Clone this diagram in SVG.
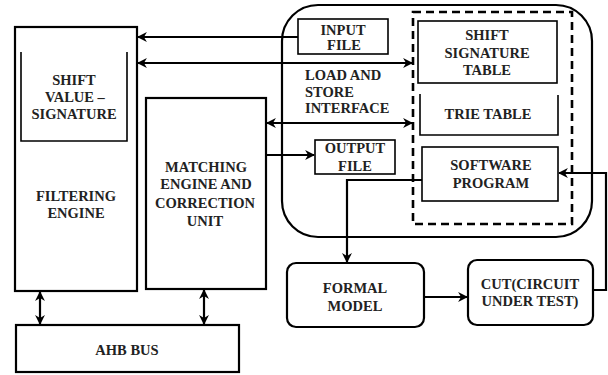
<svg xmlns="http://www.w3.org/2000/svg" width="608" height="375" viewBox="0 0 608 375">
<defs>
<style>
.box{fill:none;stroke:#000;stroke-width:2.2}
.thin{fill:none;stroke:#000;stroke-width:1.6}
.ln{fill:none;stroke:#000;stroke-width:2.2}
.dash{fill:none;stroke:#000;stroke-width:2.6;stroke-dasharray:8,5}
text{font-family:"Liberation Serif","Times New Roman",serif;font-weight:bold;font-size:14.5px;fill:#222;text-anchor:middle}
.l{text-anchor:start}
</style>
<marker id="ah" viewBox="0 0 10 10" refX="9" refY="5" markerWidth="4.5" markerHeight="4.5" orient="auto-start-reverse" markerUnits="strokeWidth">
<path d="M0,0 L10,5 L0,10 L3,5 z" fill="#000"/>
</marker>
</defs>
<rect width="608" height="375" fill="#fff"/>

<g id="filtering-engine">
<rect class="box" x="15" y="27" width="122" height="264"/>
<path class="thin" d="M21,52 V141 H127 V52"/>
<text x="74" y="85">SHIFT</text>
<text x="75" y="102">VALUE  –</text>
<text x="74" y="119">SIGNATURE</text>
<text x="76" y="201">FILTERING</text>
<text x="76" y="218">ENGINE</text>
</g>

<g id="matching-engine">
<rect class="box" x="146" y="98" width="120" height="191"/>
<text x="206" y="172">MATCHING</text>
<text x="206" y="189">ENGINE AND</text>
<text x="205" y="208">CORRECTION</text>
<text x="205" y="226">UNIT</text>
</g>

<g id="ahb-bus">
<rect class="box" x="16" y="325" width="223" height="47"/>
<text x="127" y="355">AHB BUS</text>
</g>

<g id="memory-block">
<rect class="box" x="282" y="5" width="310" height="232" rx="36" ry="36"/>
<rect class="dash" x="413" y="12" width="159" height="212"/>
</g>

<g id="input-file">
<rect class="thin" x="298" y="19" width="90" height="35"/>
<text x="343" y="35">INPUT</text>
<text x="344" y="50">FILE</text>
</g>

<g id="load-store">
<text class="l" x="305" y="80">LOAD AND</text>
<text class="l" x="305" y="97">STORE</text>
<text class="l" x="305" y="113">INTERFACE</text>
</g>

<g id="shift-signature-table">
<rect class="thin" x="418" y="21" width="139" height="62"/>
<text x="487" y="40">SHIFT</text>
<text x="487" y="58">SIGNATURE</text>
<text x="487" y="75">TABLE</text>
</g>

<g id="trie-table">
<path class="thin" d="M420,94 V135 H558 V95"/>
<text x="488" y="119">TRIE TABLE</text>
</g>

<g id="output-file">
<rect class="thin" x="315" y="140" width="80" height="34"/>
<text x="355" y="153">OUTPUT</text>
<text x="355" y="171">FILE</text>
</g>

<g id="software-program">
<rect class="thin" x="422" y="147" width="136" height="54"/>
<text x="491" y="170">SOFTWARE</text>
<text x="491" y="188">PROGRAM</text>
</g>

<g id="formal-model">
<rect class="box" x="287" y="263" width="137" height="64" rx="9" ry="9"/>
<text x="355" y="293">FORMAL</text>
<text x="355" y="311">MODEL</text>
</g>

<g id="cut">
<rect class="box" x="468" y="260" width="125" height="65" rx="9" ry="9"/>
<text x="530" y="289">CUT(CIRCUIT</text>
<text x="530" y="306">UNDER TEST)</text>
</g>

<g id="connectors">
<path class="ln" d="M298,37 H138" marker-end="url(#ah)"/>
<path class="ln" d="M138,63 H412" marker-start="url(#ah)" marker-end="url(#ah)"/>
<path class="ln" d="M267,123 H412" marker-start="url(#ah)" marker-end="url(#ah)"/>
<path class="ln" d="M266,155 H314" marker-end="url(#ah)"/>
<path class="ln" d="M422,180 H347 V262" marker-end="url(#ah)"/>
<path class="ln" d="M424,297 H467" marker-end="url(#ah)"/>
<path class="ln" d="M593,290 H606 V173 H559" marker-end="url(#ah)"/>
<path class="ln" d="M40,292 V324" marker-start="url(#ah)" marker-end="url(#ah)"/>
<path class="ln" d="M204,290 V324" marker-start="url(#ah)" marker-end="url(#ah)"/>
</g>
</svg>
